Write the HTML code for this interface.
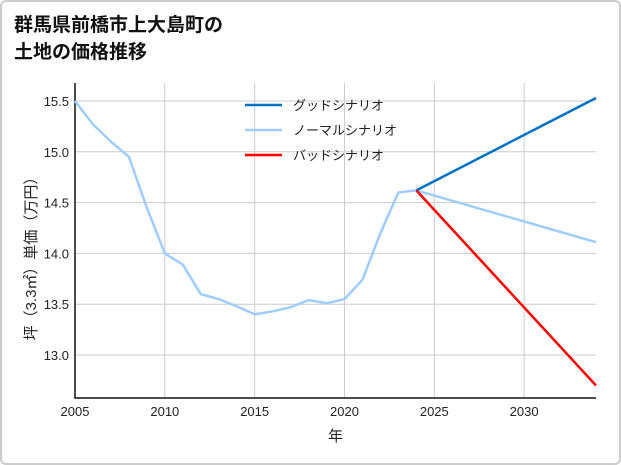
<!DOCTYPE html>
<html><head><meta charset="utf-8"><style>
body{margin:0;background:#fff;}
#wrap{position:absolute;left:0;top:0;width:617px;height:461px;border:2px solid #ccc;border-radius:6px;background:#fff;}
svg{position:absolute;left:0;top:0;}
text{font-family:"Liberation Sans","Noto Sans CJK JP",sans-serif;}
</style></head><body>
<div id="wrap"></div>
<svg id="c" width="621" height="465">
<text x="14" y="31" font-size="19" font-weight="bold" fill="#111">群馬県前橋市上大島町の</text>
<text x="14" y="58" font-size="19" font-weight="bold" fill="#111">土地の価格推移</text>
</svg>
<script>
const years=[2005,2006,2007,2008,2009,2010,2011,2012,2013,2014,2015,2016,2017,2018,2019,2020,2021,2022,2023,2024];
const prices=[15.5,15.27,15.1,14.95,14.45,14.0,13.89,13.6,13.55,13.48,13.4,13.43,13.47,13.54,13.51,13.55,13.74,14.2,14.6,14.62];
const projYears=[2024,2034];
const goodVals=[14.62,15.53];
const normalVals=[14.62,14.11];
const badVals=[14.62,12.7];
const xTicks=[2005,2010,2015,2020,2025,2030];
const yTicks=[13.0,13.5,14.0,14.5,15.0,15.5];
const legendLabels=["グッドシナリオ","ノーマルシナリオ","バッドシナリオ"];
const legendColors=["#0072c6","#9fcdff","#ff0000"];

const L=75,R=596,T=83,B=398;
const X=v=>L+(v-2005)*(R-L)/(2034-2005);
const Y=v=>355-(v-13.0)*101.6;
const svg=document.getElementById('c');
const NS='http://www.w3.org/2000/svg';
function mk(tag,attrs){const e=document.createElementNS(NS,tag);for(const k in attrs)e.setAttribute(k,attrs[k]);svg.appendChild(e);return e;}

xTicks.forEach(t=>{
  const g=mk('line',{x1:X(t),x2:X(t),y1:T,y2:B,stroke:'#ccc','stroke-width':1});
  
  
  const tx=mk('text',{x:X(t),y:B+18,'font-size':13,'text-anchor':'middle',fill:'#222'});
  tx.textContent=t;
  
  
});
yTicks.forEach(t=>{
  const g=mk('line',{x1:L,x2:R,y1:Y(t),y2:Y(t),stroke:'#ccc','stroke-width':1});
  
  
  const tx=mk('text',{x:L-6,y:Y(t)+5,'font-size':13,'text-anchor':'end',fill:'#222'});
  tx.textContent=t.toFixed(1);
  
  
});
const ax=mk('path',{d:`M${L},${T} V${B} H${R}`,fill:'none',stroke:'#111','stroke-width':1.5});



function line(xs,ys,color,name){
  const p=mk('polyline',{points:xs.map((x,i)=>X(x)+','+Y(ys[i])).join(' '),fill:'none',stroke:color,'stroke-width':2.5,'stroke-linejoin':'round'});
  
  
}
line(years,prices,'#9fcdff','history-line');
line(projYears,normalVals,'#9fcdff','normal-scenario-line');
line(projYears,goodVals,'#0072c6','good-scenario-line');
line(projYears,badVals,'#ff0000','bad-scenario-line');

legendLabels.forEach((lab,i)=>{
  const y=105+i*25;
  const l=mk('line',{x1:245,x2:282,y1:y,y2:y,stroke:legendColors[i],'stroke-width':2.5});
  
  
  const t=mk('text',{x:293,y:y+5,'font-size':13,fill:'#222'});
  t.textContent=lab;
  
  
});
const xt=mk('text',{x:(L+R)/2,y:441,'font-size':15,'text-anchor':'middle',fill:'#222'});
xt.textContent='年';


const yt=mk('text',{x:0,y:0,'font-size':15,'text-anchor':'middle',fill:'#222',transform:`translate(36,255) rotate(-90)`});
yt.textContent='坪（3.3㎡）単価（万円）';


</script>
</body></html>
